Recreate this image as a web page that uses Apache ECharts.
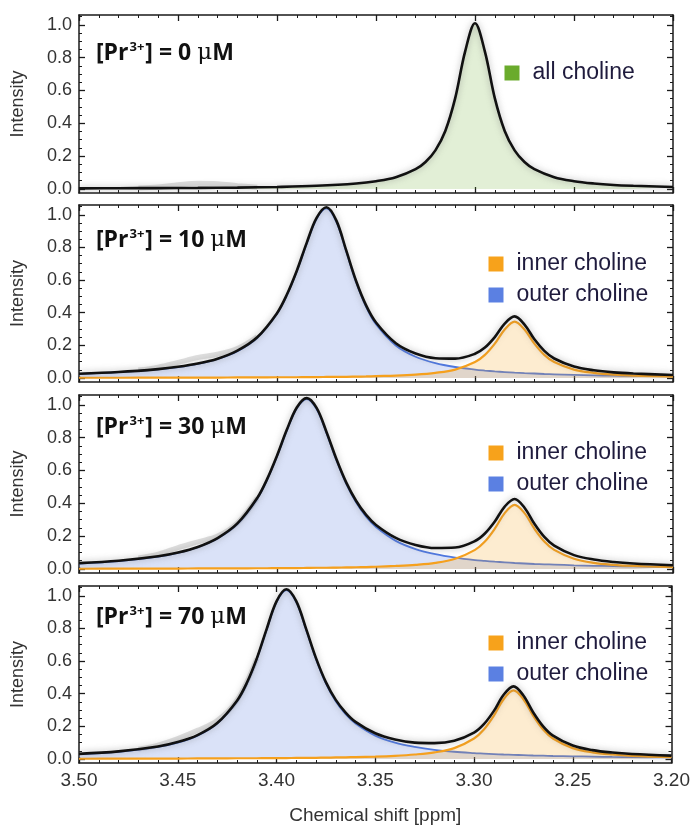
<!DOCTYPE html>
<html>
<head>
<meta charset="utf-8">
<script src="https://cdn.jsdelivr.net/npm/echarts@6/dist/echarts.min.js"></script>
<style>html,body{margin:0;padding:0;background:#fff;}#c{width:693px;height:826px;}</style>
</head>
<body>
<div id="c"></div>
<script>
// ---------- data ----------
const panelLabels = ['0', '10', '30', '70'];
const xTicks = [3.20, 3.25, 3.30, 3.35, 3.40, 3.45, 3.50];
const yMajor = [0, 0.2, 0.4, 0.6, 0.8, 1.0];
const yMinor = [0.05, 0.1, 0.15, 0.25, 0.3, 0.35, 0.45, 0.5, 0.55, 0.65, 0.7, 0.75, 0.85, 0.9, 0.95, 1.05];

// panel 1 : [Pr3+] = 0 uM
const xsP1 = [3.50, 3.48, 3.46, 3.44, 3.42, 3.40, 3.38, 3.36, 3.35, 3.34, 3.33, 3.325, 3.32, 3.315, 3.31, 3.305, 3.30, 3.295, 3.29, 3.285, 3.28, 3.275, 3.27, 3.26, 3.25, 3.24, 3.23, 3.22, 3.20];
const all1 = [0.003, 0.004, 0.005, 0.006, 0.008, 0.012, 0.019, 0.033, 0.047, 0.071, 0.120, 0.164, 0.235, 0.353, 0.553, 0.837, 1.010, 0.837, 0.553, 0.353, 0.235, 0.164, 0.120, 0.071, 0.047, 0.033, 0.024, 0.019, 0.012];

// panel 2 : 10 uM
const xsP2 = [3.50, 3.48, 3.46, 3.45, 3.44, 3.43, 3.42, 3.41, 3.40, 3.395, 3.39, 3.385, 3.38, 3.375, 3.37, 3.365, 3.36, 3.355, 3.35, 3.34, 3.33, 3.32, 3.31, 3.30, 3.295, 3.29, 3.285, 3.28, 3.275, 3.27, 3.265, 3.26, 3.25, 3.24, 3.23, 3.22, 3.20];
const outer2 = [0.025, 0.035, 0.052, 0.066, 0.086, 0.116, 0.164, 0.246, 0.393, 0.507, 0.653, 0.823, 0.976, 1.040, 0.957, 0.773, 0.585, 0.436, 0.329, 0.199, 0.130, 0.091, 0.067, 0.051, 0.045, 0.040, 0.036, 0.032, 0.029, 0.027, 0.024, 0.022, 0.019, 0.016, 0.014, 0.012, 0.010];
const inner2 = [0.001, 0.001, 0.002, 0.002, 0.002, 0.002, 0.003, 0.003, 0.004, 0.004, 0.004, 0.005, 0.005, 0.006, 0.007, 0.007, 0.008, 0.009, 0.011, 0.014, 0.020, 0.031, 0.051, 0.097, 0.141, 0.210, 0.297, 0.345, 0.297, 0.210, 0.141, 0.097, 0.051, 0.031, 0.020, 0.014, 0.008];
const total2 = [0.026, 0.036, 0.054, 0.068, 0.088, 0.118, 0.167, 0.249, 0.397, 0.511, 0.657, 0.828, 0.981, 1.046, 0.964, 0.780, 0.593, 0.445, 0.340, 0.213, 0.150, 0.121, 0.118, 0.148, 0.186, 0.250, 0.333, 0.377, 0.327, 0.237, 0.166, 0.119, 0.070, 0.047, 0.034, 0.027, 0.018];

// panel 3 : 30 uM
const xsP3 = [3.50, 3.48, 3.46, 3.45, 3.44, 3.43, 3.42, 3.41, 3.405, 3.40, 3.395, 3.39, 3.385, 3.38, 3.375, 3.37, 3.365, 3.36, 3.355, 3.35, 3.34, 3.33, 3.32, 3.31, 3.30, 3.295, 3.29, 3.285, 3.28, 3.275, 3.27, 3.265, 3.26, 3.25, 3.24, 3.23, 3.22, 3.20];
const outer3 = [0.033, 0.048, 0.075, 0.098, 0.132, 0.185, 0.274, 0.428, 0.543, 0.685, 0.844, 0.979, 1.035, 0.974, 0.828, 0.662, 0.518, 0.404, 0.318, 0.255, 0.171, 0.121, 0.090, 0.069, 0.054, 0.049, 0.044, 0.040, 0.036, 0.033, 0.030, 0.028, 0.026, 0.022, 0.019, 0.017, 0.015, 0.012];
const inner3 = [0.001, 0.002, 0.002, 0.002, 0.003, 0.003, 0.003, 0.004, 0.004, 0.005, 0.005, 0.005, 0.006, 0.007, 0.007, 0.008, 0.009, 0.010, 0.011, 0.013, 0.018, 0.025, 0.037, 0.062, 0.116, 0.167, 0.245, 0.340, 0.390, 0.340, 0.245, 0.167, 0.116, 0.062, 0.037, 0.025, 0.018, 0.010];
const total3 = [0.035, 0.050, 0.077, 0.100, 0.134, 0.188, 0.277, 0.432, 0.547, 0.690, 0.849, 0.984, 1.041, 0.981, 0.835, 0.670, 0.526, 0.414, 0.329, 0.268, 0.189, 0.146, 0.127, 0.130, 0.170, 0.216, 0.289, 0.380, 0.426, 0.373, 0.275, 0.195, 0.142, 0.084, 0.057, 0.042, 0.033, 0.022];

// panel 4 : 70 uM
const xsP4 = [3.50, 3.48, 3.46, 3.45, 3.44, 3.43, 3.42, 3.415, 3.41, 3.405, 3.40, 3.395, 3.39, 3.385, 3.38, 3.375, 3.37, 3.365, 3.36, 3.35, 3.34, 3.33, 3.32, 3.31, 3.30, 3.295, 3.29, 3.285, 3.28, 3.275, 3.27, 3.265, 3.26, 3.25, 3.24, 3.23, 3.22, 3.20];
const outer4 = [0.030, 0.044, 0.074, 0.100, 0.143, 0.217, 0.353, 0.463, 0.611, 0.791, 0.961, 1.035, 0.961, 0.791, 0.611, 0.463, 0.353, 0.274, 0.217, 0.143, 0.100, 0.074, 0.056, 0.044, 0.036, 0.033, 0.030, 0.027, 0.025, 0.023, 0.021, 0.020, 0.018, 0.016, 0.014, 0.012, 0.011, 0.009];
const inner4 = [0.001, 0.002, 0.002, 0.002, 0.003, 0.003, 0.004, 0.004, 0.004, 0.005, 0.005, 0.005, 0.006, 0.006, 0.007, 0.008, 0.009, 0.010, 0.011, 0.014, 0.019, 0.027, 0.040, 0.066, 0.125, 0.180, 0.264, 0.366, 0.420, 0.366, 0.264, 0.180, 0.125, 0.066, 0.040, 0.027, 0.019, 0.011];
const total4 = [0.031, 0.046, 0.076, 0.103, 0.146, 0.220, 0.357, 0.467, 0.615, 0.796, 0.966, 1.040, 0.967, 0.797, 0.618, 0.471, 0.362, 0.284, 0.227, 0.157, 0.119, 0.100, 0.097, 0.111, 0.161, 0.213, 0.293, 0.393, 0.445, 0.389, 0.285, 0.200, 0.143, 0.082, 0.054, 0.039, 0.030, 0.020];

// grey measured data where it departs from the fit (small shoulder near 3.435 ppm)
const xsBump = [3.47, 3.46, 3.45, 3.44, 3.43, 3.42, 3.41];
const gray1 = [0.006, 0.012, 0.025, 0.035, 0.032, 0.020, 0.010];
const gray2 = [0.048, 0.066, 0.095, 0.125, 0.145, 0.180, 0.252];
const gray3 = [0.066, 0.090, 0.130, 0.165, 0.200, 0.280, 0.432];
const gray4 = [0.060, 0.085, 0.125, 0.175, 0.235, 0.360, 0.615];

// ---------- chart ----------
const pairs = (xs, ys) => xs.map((x, i) => [x, ys[i]]);
const grids = [
  {left: 79, top: 15, width: 594, height: 178},
  {left: 79, top: 205, width: 594, height: 177},
  {left: 79, top: 395, width: 594, height: 178},
  {left: 79, top: 586, width: 594, height: 177}
];
const FRAME = '#1a1a1a';
const LABEL = '#333333';
const xAxes = [], yAxes = [], series = [], titles = [], legends = [];

grids.forEach((g, i) => {
  ['bottom', 'top'].forEach(pos => {
    const main = (i === 3 && pos === 'bottom');
    xAxes.push({
      gridIndex: i, type: 'value', position: pos, min: 3.2, max: 3.5, interval: 0.05, inverse: true,
      axisLine: {show: true, onZero: false, lineStyle: {color: FRAME, width: 1.5}},
      axisTick: {show: true, inside: true, length: 6, lineStyle: {color: FRAME, width: 1.3}},
      minorTick: {show: true, splitNumber: 5, length: 3, lineStyle: {color: FRAME, width: 1}},
      splitLine: {show: false}, minorSplitLine: {show: false},
      axisLabel: {show: main, formatter: v => v.toFixed(2), fontSize: 19, fontFamily: 'Liberation Sans', color: LABEL, margin: 8},
      name: main ? 'Chemical shift [ppm]' : '', nameLocation: 'middle', nameGap: 43,
      nameTextStyle: {fontSize: 19, fontFamily: 'Liberation Sans', color: LABEL}
    });
  });
  ['left', 'right'].forEach(pos => {
    const isLeft = pos === 'left';
    yAxes.push({
      gridIndex: i, type: 'value', position: pos, min: -0.025, max: 1.06,
      axisLine: {show: true, onZero: false, lineStyle: {color: FRAME, width: 1.5}},
      axisTick: {show: true, inside: true, length: 6, customValues: yMajor, lineStyle: {color: FRAME, width: 1.3}},
      splitLine: {show: false},
      axisLabel: {show: isLeft, customValues: yMajor, formatter: v => v.toFixed(1), fontSize: 18, fontFamily: 'Liberation Sans', color: LABEL, margin: 7},
      name: isLeft ? 'Intensity' : '', nameLocation: 'middle', nameGap: 52, nameRotate: 90,
      nameTextStyle: {fontSize: 18, fontFamily: 'Liberation Sans', color: LABEL}
    });
    yAxes.push({
      gridIndex: i, type: 'value', position: pos, min: -0.025, max: 1.06,
      axisLine: {show: false},
      axisTick: {show: true, inside: true, length: 3, customValues: yMinor, lineStyle: {color: FRAME, width: 1}},
      splitLine: {show: false}, axisLabel: {show: false}
    });
  });
});

const xi = i => 2 * i, yi = i => 4 * i;
const blackLine = {color: '#111', width: 2.6, shadowColor: 'rgba(110,110,110,0.55)', shadowBlur: 6};
const grayLine = {color: 'rgba(160,160,160,0.35)', width: 5};
const base = {type: 'line', symbol: 'none', smooth: 0.35, silent: true, animation: false};
const grays = [gray1, gray2, gray3, gray4];

grids.forEach((g, i) => {
  series.push(Object.assign({}, base, {name: 'data', xAxisIndex: xi(i), yAxisIndex: yi(i), data: pairs(xsBump, grays[i]), lineStyle: grayLine, z: 1}));
});

series.push(Object.assign({}, base, {
  name: 'all choline', xAxisIndex: xi(0), yAxisIndex: yi(0), data: pairs(xsP1, all1),
  lineStyle: blackLine, itemStyle: {color: '#6aab2c'}, areaStyle: {color: 'rgba(106,171,44,0.28)', origin: 0}, z: 3
}));

const comps = [[xsP2, outer2, inner2, total2], [xsP3, outer3, inner3, total3], [xsP4, outer4, inner4, total4]];
comps.forEach((c, k) => {
  const i = k + 1;
  series.push(Object.assign({}, base, {
    name: 'outer choline', xAxisIndex: xi(i), yAxisIndex: yi(i), data: pairs(c[0], c[1]),
    lineStyle: {color: '#4f78e0', width: 1.8}, itemStyle: {color: '#5b80e2'},
    areaStyle: {color: 'rgba(90,127,224,0.32)', origin: 0}, z: 2
  }));
  series.push(Object.assign({}, base, {
    name: 'inner choline', xAxisIndex: xi(i), yAxisIndex: yi(i), data: pairs(c[0], c[2]),
    lineStyle: {color: '#f5a01e', width: 2.2}, itemStyle: {color: '#f7a21b'},
    areaStyle: {color: 'rgba(245,166,35,0.30)', origin: 0}, z: 3
  }));
  series.push(Object.assign({}, base, {
    name: 'fit', xAxisIndex: xi(i), yAxisIndex: yi(i), data: pairs(c[0], c[3]),
    lineStyle: blackLine, z: 4
  }));
});

const labelTops = [39, 226, 413, 603];
panelLabels.forEach((p, i) => {
  titles.push({
    left: 96, top: labelTops[i], padding: 0,
    text: '{a|[Pr}{s|3+}{a|] = ' + p + ' }{m|\u03bc}{a|M}',
    textStyle: {
      rich: {
        a: {fontFamily: 'Open Sans', fontWeight: 'bold', fontSize: 23, color: '#111', lineHeight: 28},
        s: {fontFamily: 'Open Sans', fontWeight: 'bold', fontSize: 13, color: '#111', lineHeight: 13, padding: [0, 1, 12, 1]},
        m: {fontFamily: 'DejaVu Serif', fontWeight: 'normal', fontSize: 23, color: '#111', lineHeight: 28}
      }
    }
  });
});

const legText = {fontSize: 23, fontFamily: 'Liberation Sans', color: '#1f1b3d', lineHeight: 23, padding: [0, 0, 0, 8]};
legends.push({
  left: 499.5, top: 56.5, orient: 'vertical', icon: 'rect', itemWidth: 15, itemHeight: 15, itemGap: 8,
  selectedMode: false, textStyle: legText,
  data: [{name: 'all choline', itemStyle: {color: '#6aab2c'}}]
});
[247.5, 436.5, 626.5].forEach(t => {
  legends.push({
    left: 483.5, top: t, orient: 'vertical', icon: 'rect', itemWidth: 15, itemHeight: 15, itemGap: 8,
    selectedMode: false, textStyle: legText,
    data: [{name: 'inner choline', itemStyle: {color: '#f7a21b'}}, {name: 'outer choline', itemStyle: {color: '#5b80e2'}}]
  });
});

const chart = echarts.init(document.getElementById('c'), null, {renderer: 'canvas'});
chart.setOption({
  animation: false,
  backgroundColor: '#fff',
  title: titles,
  legend: legends,
  grid: grids,
  xAxis: xAxes,
  yAxis: yAxes,
  series: series
});
</script>
</body>
</html>
